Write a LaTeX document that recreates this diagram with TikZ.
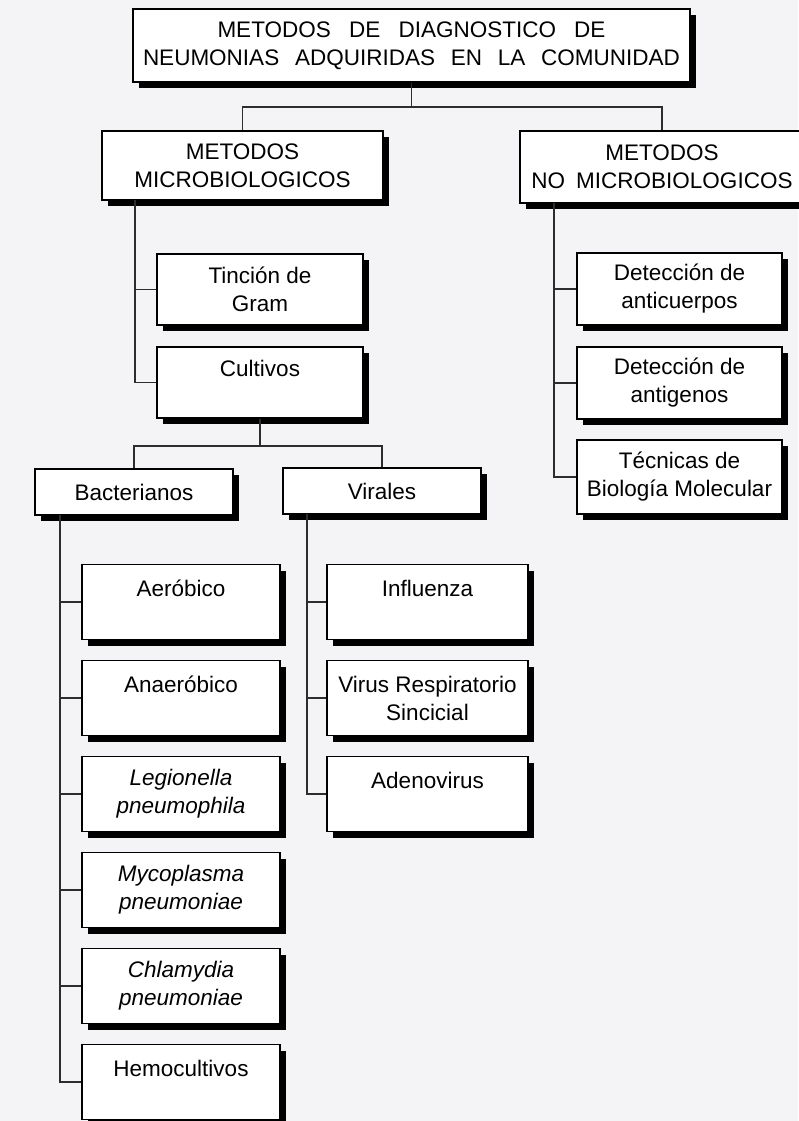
\documentclass[tikz,border=0pt]{standalone}
\usepackage{fontspec}
\setmainfont{Liberation Sans}
\usetikzlibrary{shadows}
\definecolor{fondo}{RGB}{244,244,246}
\definecolor{linea}{RGB}{45,45,45}
\begin{document}
\begin{tikzpicture}[x=1pt, y=-1pt, font=\fontsize{22.5}{28}\selectfont, line join=miter,
		caja/.style={draw=black, line width=1.7pt, fill=white, align=center, inner sep=0pt,
			drop shadow={shadow xshift=6pt, shadow yshift=-6pt, fill=black, opacity=1}},
		cajab/.style={caja, minimum width=198pt, minimum height=75pt},
		cajav/.style={caja, minimum width=201pt, minimum height=75pt},
		rama/.style={draw=linea, line width=1.3pt}]
	\fill[fondo] (0,0) rectangle (798,1121);
	\useasboundingbox (0,0) rectangle (798,1121);
	% nivel 1 y 2
	\node[caja, minimum width=557pt, minimum height=73pt] (raiz) at (411.5,45.5)
		{\makebox[388pt][s]{METODOS DE DIAGNOSTICO DE}\\\makebox[537pt][s]{NEUMONIAS ADQUIRIDAS EN LA COMUNIDAD}};
	\node[caja, minimum width=281pt, minimum height=69pt] (micro) at (242.5,165.5) {METODOS\\MICROBIOLOGICOS};
	\node[caja, minimum width=284pt, minimum height=72pt] (nomicro) at (662,167) {METODOS\\NO\hspace{11pt}MICROBIOLOGICOS\hspace{6pt}};
	\coordinate (j1) at (411.5,107);
	\draw[rama] (raiz.south) -- (j1);
	\draw[rama] (micro.north) |- (j1) -| (nomicro.north);
	% microbiologicos
	\node[caja, minimum width=206pt, minimum height=71pt] (tincion) at (260,289.5) {Tinción de\\Gram};
	\node[caja, minimum width=206pt, minimum height=71pt] (cultivos) at (260,382.5) {Cultivos\\\mbox{}};
	\coordinate (mtronco) at (135,200);
	\foreach \n in {tincion,cultivos} \draw[rama] (\n.west) -| (mtronco);
	% no microbiologicos
	\node[caja, minimum width=205pt, minimum height=72pt] (anticuerpos) at (679.5,289) {Detección de\\anticuerpos};
	\node[caja, minimum width=205pt, minimum height=72pt] (antigenos) at (679.5,383) {Detección de\\antigenos};
	\node[caja, minimum width=205pt, minimum height=74pt] (tecnicas) at (679.5,477) {Técnicas de\\Biología Molecular};
	\coordinate (nmtronco) at (554,203);
	\foreach \n in {anticuerpos,antigenos,tecnicas} \draw[rama] (\n.west) -| (nmtronco);
	% cultivos
	\node[caja, minimum width=198pt, minimum height=46pt] (bacterianos) at (134,492) {Bacterianos};
	\node[caja, minimum width=198pt, minimum height=46pt] (virales) at (382,491) {Virales};
	\coordinate (j2) at (260,446);
	\draw[rama] (cultivos.south) -- (j2);
	\draw[rama] (bacterianos.north) |- (j2) -| (virales.north);
	% bacterianos
	\node[cajab] (aerobico) at (181,602) {Aeróbico\\\mbox{}};
	\node[cajab] (anaerobico) at (181,698) {Anaeróbico\\\mbox{}};
	\node[cajab] (legionella) at (181,794) {\textit{Legionella}\\\textit{pneumophila}};
	\node[cajab] (mycoplasma) at (181,890) {\textit{Mycoplasma}\\\textit{pneumoniae}};
	\node[cajab] (chlamydia) at (181,986) {\textit{Chlamydia}\\\textit{pneumoniae}};
	\node[cajab] (hemocultivos) at (181,1082) {Hemocultivos\\\mbox{}};
	\coordinate (btronco) at (60,515);
	\foreach \n in {aerobico,anaerobico,legionella,mycoplasma,chlamydia,hemocultivos} \draw[rama] (\n.west) -| (btronco);
	% virales
	\node[cajav] (influenza) at (427.5,602) {Influenza\\\mbox{}};
	\node[cajav] (vrs) at (427.5,698) {Virus Respiratorio\\Sincicial};
	\node[cajav] (adenovirus) at (427.5,794) {Adenovirus\\\mbox{}};
	\coordinate (vtronco) at (307,514);
	\foreach \n in {influenza,vrs,adenovirus} \draw[rama] (\n.west) -| (vtronco);
\end{tikzpicture}
\end{document}
